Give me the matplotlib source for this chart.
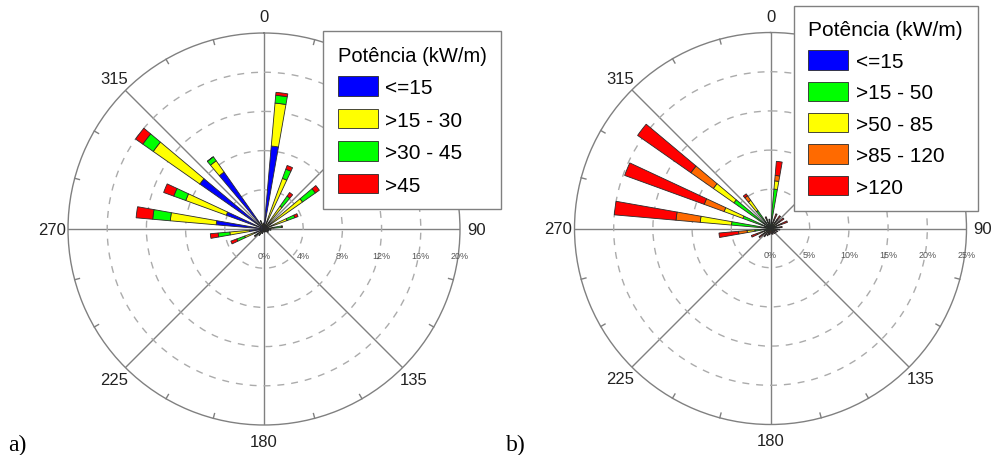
import numpy as np
import matplotlib.pyplot as plt
from matplotlib.patches import Patch

plt.rcParams['font.family'] = ['Liberation Sans', 'DejaVu Sans']

# sector centres (deg, clockwise from north)
directions = [7.5, 22.5, 37.5, 52.5, 67.5, 82.5, 97.5, 112.5, 127.5, 142.5, 157.5, 172.5,
              187.5, 202.5, 217.5, 232.5, 247.5, 262.5, 277.5, 292.5, 307.5, 322.5, 337.5, 352.5]

# a) frequency (%) per power class
a_labels = ['<=15', '>15 - 30', '>30 - 45', '>45']
a_colors = ['#0000ff', '#ffff00', '#00ff00', '#ff0000']
a_le15 = [8.5, 0.5, 0.4, 0.5, 0.4, 0.3, 0.3, 0.3, 0.3, 0.2, 0.2, 0.2,
          0.2, 0.3, 0.4, 0.5, 1.0, 1.5, 4.9, 4.1, 8.0, 7.1, 0.5, 0.4]
a_15_30 = [4.4, 5.0, 2.45, 4.3, 2.1, 0.7, 0.3, 0.2, 0.2, 0.1, 0.1, 0.1,
           0.1, 0.2, 0.3, 0.4, 1.1, 2.0, 4.7, 4.4, 5.8, 1.4, 0.3, 0.2]
a_30_45 = [0.8, 1.0, 1.25, 1.6, 0.85, 0.8, 0.1, 0.0, 0.0, 0.0, 0.0, 0.0,
           0.0, 0.0, 0.1, 0.2, 0.85, 1.2, 1.8, 1.3, 1.3, 0.5, 0.1, 0.0]
a_gt45 = [0.3, 0.4, 0.45, 0.5, 0.35, 0.1, 0.0, 0.0, 0.0, 0.0, 0.0, 0.0,
          0.0, 0.0, 0.0, 0.1, 0.65, 0.8, 1.7, 1.1, 0.9, 0.0, 0.0, 0.0]

# b)
b_labels = ['<=15', '>15 - 50', '>50 - 85', '>85 - 120', '>120']
b_colors = ['#0000ff', '#00ff00', '#ffff00', '#ff6a00', '#ff0000']
b_le15 = [0.4, 0.2, 0.2, 0.2, 0.2, 0.2, 0.2, 0.1, 0.1, 0.1, 0.1, 0.1,
          0.1, 0.1, 0.2, 0.2, 0.3, 0.4, 0.3, 0.2, 0.3, 0.2, 0.3, 0.3]
b_15_50 = [4.65, 0.4, 0.5, 0.5, 0.5, 0.4, 0.3, 0.25, 0.2, 0.2, 0.2, 0.2,
           0.2, 0.25, 0.3, 0.4, 0.6, 1.6, 4.7, 3.55, 5.4, 2.6, 0.6, 0.5]
b_50_85 = [1.05, 0.3, 0.3, 0.3, 0.4, 0.3, 0.2, 0.15, 0.15, 0.1, 0.1, 0.1,
           0.1, 0.15, 0.2, 0.3, 0.4, 1.0, 4.0, 2.55, 3.2, 1.6, 0.3, 0.2]
b_85_120 = [0.7, 0.3, 0.4, 0.4, 0.4, 0.2, 0.2, 0.2, 0.2, 0.2, 0.2, 0.1,
            0.2, 0.2, 0.3, 0.4, 0.5, 1.1, 3.1, 2.7, 3.5, 0.7, 0.2, 0.1]
b_gt120 = [1.8, 0.8, 0.6, 0.7, 0.8, 0.4, 0.3, 0.3, 0.25, 0.2, 0.2, 0.2,
           0.2, 0.3, 0.3, 0.5, 0.8, 2.5, 7.9, 10.8, 8.3, 0.3, 0.2, 0.1]

# 45 is hidden behind the legend in the original
angle_labels = {0: '0', 90: '90', 135: '135', 180: '180', 225: '225', 270: '270', 315: '315'}
legend_title = 'Potência (kW/m)'

GREY = '#808080'


def draw_rose(ax, series, colors, rmax, step):
    theta = np.deg2rad(directions)
    bottom = np.zeros(len(directions))
    for vals, col in zip(series, colors):
        vals = np.array(vals)
        ax.bar(theta, vals, width=np.deg2rad(5), bottom=bottom, color=col,
               edgecolor='#2a2a2a', linewidth=0.6, zorder=3)
        bottom += vals
    ax.set_theta_zero_location('N')
    ax.set_theta_direction(-1)
    ax.set_ylim(0, rmax)
    ax.set_yticks(np.arange(step, rmax, step))
    ax.set_yticklabels([])
    ax.set_xticks(np.deg2rad(np.arange(0, 360, 45)))
    ax.set_xticklabels([])
    ax.tick_params(length=0)
    ax.xaxis.grid(True, color=GREY, lw=1, ls='-')
    ax.yaxis.grid(True, color='#ababab', lw=1, ls=(0, (5, 5)))
    ax.set_axisbelow(True)
    ax.spines['polar'].set_color(GREY)
    ax.spines['polar'].set_linewidth(1)
    # small ticks on the outer circle
    for d in range(15, 360, 15):
        if d % 45:
            ax.plot([np.deg2rad(d)] * 2, [rmax * 0.975, rmax], color=GREY, lw=1,
                    zorder=2, clip_on=False)
    for d, lab in angle_labels.items():
        ax.text(np.deg2rad(d), rmax * 1.083, lab, ha='center', va='center',
                fontsize=12, color='#222222')
    for r in np.arange(0, rmax + step / 2, step):
        ax.annotate('%d%%' % r, xy=(np.pi / 2, r), xytext=(0, -26),
                    textcoords='offset pixels', ha='center', va='center',
                    fontsize=6.5, color='#555555', annotation_clip=False)


def add_legend(ax, fig, labels, colors, anchor, title_size, spacing):
    handles = [Patch(facecolor=c, edgecolor='#2a2a2a', linewidth=0.6) for c in colors]
    leg = ax.legend(handles, labels, title=legend_title, loc='upper left',
                    bbox_to_anchor=anchor, bbox_transform=fig.transFigure,
                    borderaxespad=0, fontsize=15, title_fontsize=title_size,
                    handlelength=1.92, handleheight=1.06, labelspacing=spacing,
                    handletextpad=0.35, borderpad=0.7, fancybox=False, framealpha=1,
                    edgecolor=GREY, alignment='left')
    leg.get_frame().set_linewidth(1)
    leg.set_zorder(10)


fig = plt.figure(figsize=(9.91, 4.56), dpi=100)
ax_a = fig.add_axes([0.0686, 0.0658, 0.3956, 0.8596], projection='polar')
ax_b = fig.add_axes([0.5797, 0.0669, 0.3956, 0.8596], projection='polar')

draw_rose(ax_a, [a_le15, a_15_30, a_30_45, a_gt45], a_colors, 20, 4)
draw_rose(ax_b, [b_le15, b_15_50, b_50_85, b_85_120, b_gt120], b_colors, 25, 5)
add_legend(ax_a, fig, a_labels, a_colors, (0.326, 0.93), 14.5, 0.56)
add_legend(ax_b, fig, b_labels, b_colors, (0.801, 0.985), 15, 0.51)

fig.text(0.008, 0.011, 'a)', fontsize=17, family='Liberation Serif', va='baseline')
fig.text(0.511, 0.011, 'b)', fontsize=17, family='Liberation Serif', va='baseline')

fig.savefig('out.png', dpi=100)
